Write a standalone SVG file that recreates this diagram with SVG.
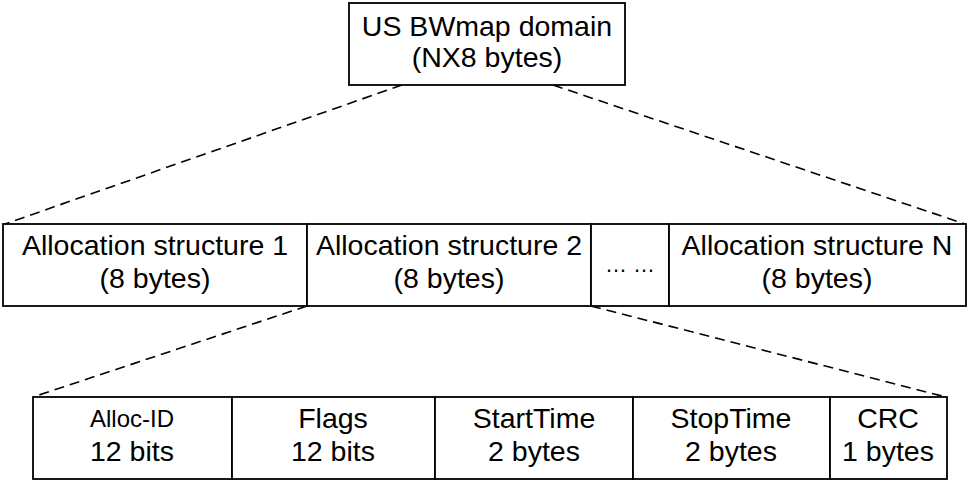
<svg xmlns="http://www.w3.org/2000/svg" width="970" height="481" viewBox="0 0 970 481">
<style>
.box{fill:#fff;stroke:#000;stroke-width:1.8}
.t{font-family:"Liberation Sans",Arial,sans-serif;font-size:28.5px;fill:#000;text-anchor:middle}
.s{font-size:24px}
.dt{font-size:22px}
.d{stroke:#000;stroke-width:1.6;stroke-dasharray:10 6;fill:none}
</style>
<rect width="970" height="481" fill="#fff"/>
<g id="connectors">
<line class="d" x1="402" y1="85" x2="5" y2="224"/>
<line class="d" x1="553" y1="85" x2="965" y2="224"/>
<line class="d" x1="307" y1="306" x2="33" y2="397"/>
<line class="d" x1="591" y1="306" x2="946" y2="397"/>
</g>
<g id="domain">
<rect class="box" x="349" y="3" width="276" height="82"/>
<text class="t" x="487" y="36">US BWmap domain</text>
<text class="t" x="487" y="67">(NX8 bytes)</text>
</g>
<g id="alloc1">
<rect class="box" x="3" y="224" width="304" height="82"/>
<text class="t" x="155" y="255">Allocation structure 1</text>
<text class="t" x="155" y="288">(8 bytes)</text>
</g>
<g id="alloc2">
<rect class="box" x="307" y="224" width="284" height="82"/>
<text class="t" x="449" y="255">Allocation structure 2</text>
<text class="t" x="449" y="288">(8 bytes)</text>
</g>
<g id="dots">
<rect class="box" x="591" y="224" width="78" height="82"/>
<text class="t dt" x="630" y="272">… …</text>
</g>
<g id="allocN">
<rect class="box" x="669" y="224" width="297" height="82"/>
<text class="t" x="817" y="255">Allocation structure N</text>
<text class="t" x="817" y="288">(8 bytes)</text>
</g>
<g id="allocid">
<rect class="box" x="33" y="397" width="199" height="82"/>
<text class="t s" x="132" y="427">Alloc-ID</text>
<text class="t" x="132" y="461">12 bits</text>
</g>
<g id="flags">
<rect class="box" x="232" y="397" width="203" height="82"/>
<text class="t" x="333" y="428">Flags</text>
<text class="t" x="333" y="461">12 bits</text>
</g>
<g id="starttime">
<rect class="box" x="435" y="397" width="198" height="82"/>
<text class="t" x="534" y="428">StartTime</text>
<text class="t" x="534" y="461">2 bytes</text>
</g>
<g id="stoptime">
<rect class="box" x="633" y="397" width="197" height="82"/>
<text class="t" x="731" y="428">StopTime</text>
<text class="t" x="731" y="461">2 bytes</text>
</g>
<g id="crc">
<rect class="box" x="830" y="397" width="117" height="82"/>
<text class="t" x="888" y="428">CRC</text>
<text class="t" x="888" y="461">1 bytes</text>
</g>
</svg>
